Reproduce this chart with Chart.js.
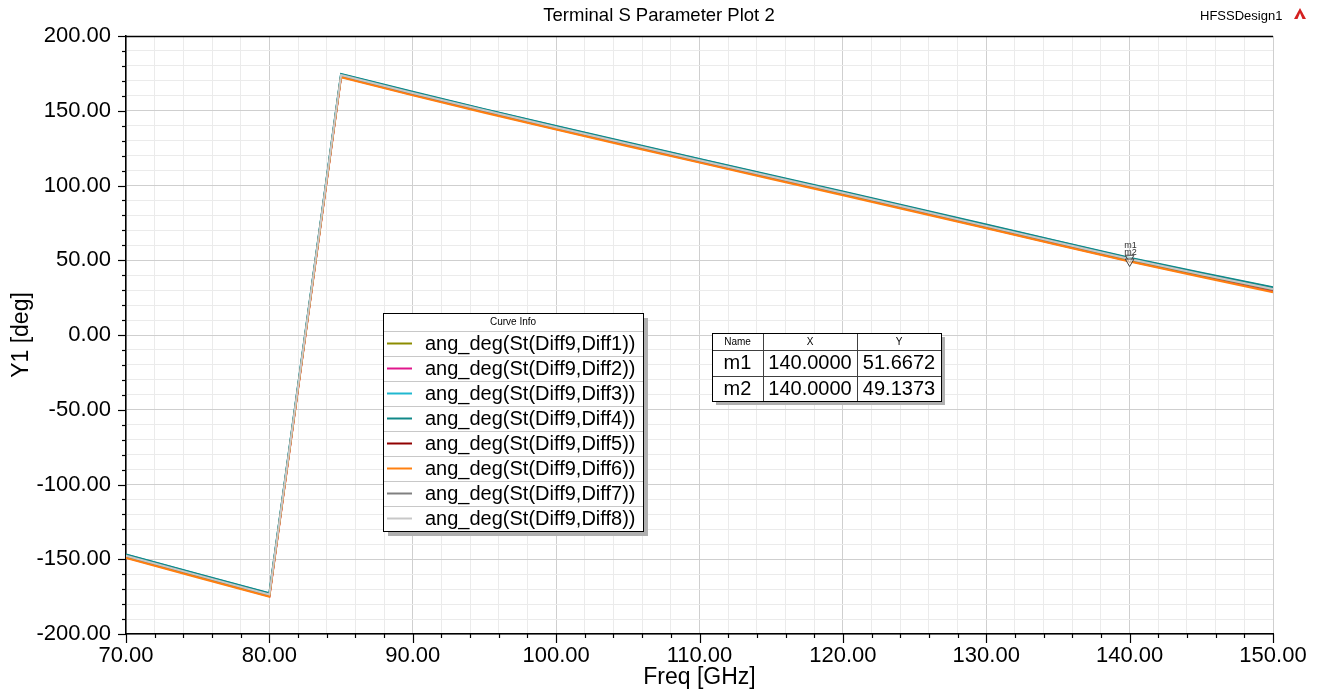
<!DOCTYPE html>
<html>
<head>
<meta charset="utf-8">
<script src="https://cdn.jsdelivr.net/npm/chart.js@4.4.1/dist/chart.umd.min.js"></script>
<style>
  html, body { margin: 0; padding: 0; background: #ffffff; }
  canvas { display: block; }
</style>
</head>
<body>
<canvas id="plot" width="1325" height="694"></canvas>
<script>
// Frequency sweep (GHz)
const freqGHz = [70, 75, 80, 85, 90, 95, 100, 105, 110, 115, 120, 125, 130, 135, 140, 145, 150];

// Phase of each transmission term, degrees
const angDiff1 = [-148.0, -161.0, -173.9, 173.5, 161.5, 149.9, 138.6, 127.5, 116.5, 105.6, 94.7, 83.7, 72.6, 61.5, 50.4, 40.2, 30.3];
const angDiff2 = [-148.8, -161.8, -174.7, 172.8, 160.7, 149.1, 137.8, 126.7, 115.7, 104.8, 93.9, 82.9, 71.8, 60.6, 49.5, 39.2, 29.2];
const angDiff3 = [-147.0, -160.0, -172.9, 174.4, 162.4, 150.8, 139.6, 128.5, 117.5, 106.6, 95.7, 84.7, 73.6, 62.5, 51.4, 41.4, 31.6];
const angDiff4 = [-146.8, -159.8, -172.7, 174.6, 162.7, 151.1, 139.9, 128.8, 117.8, 106.9, 96.0, 85.0, 73.9, 62.8, 51.6672, 41.7, 31.9];
const angDiff5 = [-148.3, -161.3, -174.2, 173.2, 161.2, 149.6, 138.3, 127.2, 116.2, 105.3, 94.4, 83.4, 72.3, 61.2, 50.1, 39.9, 30.0];
const angDiff6 = [-149.2, -162.2, -175.1, 172.4, 160.3, 148.7, 137.4, 126.3, 115.3, 104.4, 93.5, 82.5, 71.4, 60.2, 49.1373, 38.8, 28.6];
const angDiff7 = [-147.8, -160.8, -173.7, 173.7, 161.7, 150.1, 138.8, 127.7, 116.7, 105.8, 94.9, 83.9, 72.8, 61.7, 50.6, 40.5, 30.6];
const angDiff8 = [-147.6, -160.6, -173.5, 173.9, 161.9, 150.3, 139.0, 127.9, 116.9, 106.0, 95.1, 84.1, 73.0, 61.9, 50.8, 40.7, 30.8];

const curveNames = [
  'ang_deg(St(Diff9,Diff1))', 'ang_deg(St(Diff9,Diff2))', 'ang_deg(St(Diff9,Diff3))', 'ang_deg(St(Diff9,Diff4))',
  'ang_deg(St(Diff9,Diff5))', 'ang_deg(St(Diff9,Diff6))', 'ang_deg(St(Diff9,Diff7))', 'ang_deg(St(Diff9,Diff8))'
];
const curveColors = ['#8c8c00', '#e0168c', '#20b8d0', '#108888', '#900000', '#ff8010', '#808080', '#c8c8c8'];
const curveValues = [angDiff1, angDiff2, angDiff3, angDiff4, angDiff5, angDiff6, angDiff7, angDiff8];
// drawing order: lower values end up on top
const curveOrder = [6, 7, 5, 3, 8, 2, 4, 1];

// Markers
const markerNames = ['m1', 'm2'];
const markerX = [140.0, 140.0];
const markerY = [51.6672, 49.1373];

// Axis ranges and tick steps
const xMin = 70, xMax = 150, xMinorStep = 2, xMajorStep = 10;
const yMin = -200, yMax = 200, yMinorStep = 10, yMajorStep = 50;

const FONT = '"Liberation Sans", Arial, "DejaVu Sans", sans-serif';

function isMajor(v, step) {
  const r = Math.round(v * 1000) / 1000;
  return Math.abs(r / step - Math.round(r / step)) < 1e-6;
}

const datasets = curveValues.map((vals, i) => ({
  label: curveNames[i],
  data: freqGHz.map((f, k) => ({ x: f, y: vals[k] })),
  borderColor: curveColors[i],
  backgroundColor: curveColors[i],
  borderWidth: 2,
  pointRadius: 0,
  tension: 0,
  fill: false,
  order: curveOrder[i]
}));

datasets.push({
  label: 'markers',
  type: 'scatter',
  data: markerX.map((x, i) => ({ x: x, y: markerY[i] })),
  pointStyle: 'triangle',
  rotation: 180,
  pointRadius: 5,
  borderColor: '#404040',
  backgroundColor: 'rgba(255,255,255,0.6)',
  borderWidth: 1,
  showLine: false,
  order: 0
});

const overlay = {
  id: 'overlay',
  afterDraw(chart) {
    const ctx = chart.ctx;
    const area = chart.chartArea;
    const xs = chart.scales.x, ys = chart.scales.y;
    ctx.save();

    // plot frame (top)
    ctx.strokeStyle = '#000';
    ctx.lineWidth = 1.5;
    ctx.beginPath();
    ctx.moveTo(area.left, area.top + 0.5);
    ctx.lineTo(area.right, area.top + 0.5);
    ctx.stroke();

    // tick marks
    ctx.lineWidth = 1.2;
    ctx.strokeStyle = '#000';
    xs.ticks.forEach(t => {
      const px = Math.round(xs.getPixelForValue(t.value)) + 0.5;
      const len = isMajor(t.value, xMajorStep) ? 9 : 4;
      ctx.beginPath();
      ctx.moveTo(px, area.bottom);
      ctx.lineTo(px, area.bottom + len);
      ctx.stroke();
    });
    ys.ticks.forEach(t => {
      const py = Math.round(ys.getPixelForValue(t.value)) + 0.5;
      const len = isMajor(t.value, yMajorStep) ? 8 : 4;
      ctx.beginPath();
      ctx.moveTo(area.left, py);
      ctx.lineTo(area.left - len, py);
      ctx.stroke();
    });

    // title and design name
    ctx.fillStyle = '#000';
    ctx.textBaseline = 'middle';
    ctx.textAlign = 'center';
    ctx.font = '18.5px ' + FONT;
    ctx.fillText('Terminal S Parameter Plot 2', 659, 16);
    ctx.textAlign = 'left';
    ctx.font = '13px ' + FONT;
    ctx.fillText('HFSSDesign1', 1200, 16);
    // small logo glyph
    ctx.fillStyle = '#d42020';
    ctx.beginPath();
    ctx.moveTo(1300, 8);
    ctx.lineTo(1306, 19);
    ctx.lineTo(1294, 19);
    ctx.closePath();
    ctx.fill();
    ctx.fillStyle = '#fff';
    ctx.beginPath();
    ctx.moveTo(1300, 13);
    ctx.lineTo(1302.5, 19);
    ctx.lineTo(1297.5, 19);
    ctx.closePath();
    ctx.fill();

    // axis titles
    ctx.fillStyle = '#000';
    ctx.textAlign = 'center';
    ctx.font = '23px ' + FONT;
    ctx.fillText('Freq [GHz]', (area.left + area.right) / 2, 678);
    ctx.save();
    ctx.translate(22, (area.top + area.bottom) / 2);
    ctx.rotate(-Math.PI / 2);
    ctx.fillText('Y1 [deg]', 0, 0);
    ctx.restore();

    // marker labels
    ctx.font = '9px ' + FONT;
    ctx.fillStyle = '#303030';
    markerNames.forEach((n, i) => {
      const px = xs.getPixelForValue(markerX[i]);
      const py = ys.getPixelForValue(markerY[i]);
      ctx.fillText(n, px + 1, py - 12 + i * 3);
    });

    // Curve Info box
    const lx = 383, ly = 313, lw = 260, lh = 218, headH = 18;
    const rowH = (lh - headH) / curveNames.length;
    ctx.fillStyle = '#b0b0b0';
    ctx.fillRect(lx + 5, ly + 5, lw, lh);
    ctx.fillStyle = '#fff';
    ctx.fillRect(lx, ly, lw, lh);
    ctx.strokeStyle = '#c8c8c8';
    ctx.lineWidth = 1;
    for (let i = 0; i < curveNames.length; i++) {
      const yy = Math.round(ly + headH + i * rowH) + 0.5;
      ctx.beginPath();
      ctx.moveTo(lx, yy);
      ctx.lineTo(lx + lw, yy);
      ctx.stroke();
    }
    ctx.strokeStyle = '#000';
    ctx.strokeRect(lx + 0.5, ly + 0.5, lw, lh);
    ctx.fillStyle = '#000';
    ctx.font = '10px ' + FONT;
    ctx.textAlign = 'center';
    ctx.fillText('Curve Info', lx + lw / 2, ly + headH / 2);
    ctx.textAlign = 'left';
    ctx.font = '20px ' + FONT;
    curveNames.forEach((name, i) => {
      const cy = ly + headH + i * rowH + rowH / 2;
      ctx.strokeStyle = curveColors[i];
      ctx.lineWidth = 2;
      ctx.beginPath();
      ctx.moveTo(lx + 4, cy);
      ctx.lineTo(lx + 29, cy);
      ctx.stroke();
      ctx.fillStyle = '#000';
      ctx.fillText(name, lx + 42, cy + 1);
    });

    // marker table
    const tx = 712, ty = 333, tw = 229, th = 68, tHead = 17;
    const cols = [tx, 763, 857, tx + tw];
    const tRow = (th - tHead) / markerNames.length;
    ctx.fillStyle = '#b0b0b0';
    ctx.fillRect(tx + 4, ty + 4, tw, th);
    ctx.fillStyle = '#fff';
    ctx.fillRect(tx, ty, tw, th);
    ctx.strokeStyle = '#404040';
    ctx.lineWidth = 1;
    for (let i = 0; i < markerNames.length; i++) {
      const yy = Math.round(ty + tHead + i * tRow) + 0.5;
      ctx.beginPath();
      ctx.moveTo(tx, yy);
      ctx.lineTo(tx + tw, yy);
      ctx.stroke();
    }
    [cols[1], cols[2]].forEach(cx => {
      ctx.beginPath();
      ctx.moveTo(cx + 0.5, ty);
      ctx.lineTo(cx + 0.5, ty + th);
      ctx.stroke();
    });
    ctx.strokeStyle = '#000';
    ctx.strokeRect(tx + 0.5, ty + 0.5, tw, th);
    ctx.fillStyle = '#000';
    ctx.textAlign = 'center';
    ctx.font = '10px ' + FONT;
    ['Name', 'X', 'Y'].forEach((h, c) => ctx.fillText(h, (cols[c] + cols[c + 1]) / 2, ty + tHead / 2 + 1));
    ctx.font = '20px ' + FONT;
    markerNames.forEach((n, i) => {
      const cy = ty + tHead + i * tRow + tRow / 2 + 1;
      ctx.fillText(n, (cols[0] + cols[1]) / 2, cy);
      ctx.fillText(markerX[i].toFixed(4), (cols[1] + cols[2]) / 2, cy);
      ctx.fillText(markerY[i].toFixed(4), (cols[2] + cols[3]) / 2, cy);
    });

    ctx.restore();
  }
};

new Chart(document.getElementById('plot'), {
  type: 'line',
  data: { datasets: datasets },
  options: {
    responsive: false,
    animation: false,
    devicePixelRatio: 1,
    layout: { padding: { top: 36, right: 52, left: 0, bottom: 0 } },
    plugins: { legend: { display: false }, tooltip: { enabled: false }, title: { display: false } },
    scales: {
      x: {
        type: 'linear',
        min: xMin, max: xMax,
        afterFit: s => { s.height = 60; },
        ticks: {
          stepSize: xMinorStep,
          autoSkip: false,
          maxRotation: 0,
          padding: 9,
          color: '#000',
          font: { family: FONT, size: 22 },
          callback: v => isMajor(v, xMajorStep) ? Number(v).toFixed(2) : ''
        },
        grid: {
          drawTicks: false,
          lineWidth: 1,
          color: c => (c.tick && isMajor(c.tick.value, xMajorStep)) ? '#cfcfcf' : '#ebebeb'
        },
        border: { display: true, color: '#000', width: 1.5 }
      },
      y: {
        type: 'linear',
        min: yMin, max: yMax,
        afterFit: s => { s.width = 126; },
        ticks: {
          stepSize: yMinorStep,
          autoSkip: false,
          padding: 15,
          color: '#000',
          font: { family: FONT, size: 22 },
          callback: v => isMajor(v, yMajorStep) ? Number(v).toFixed(2) : ''
        },
        grid: {
          drawTicks: false,
          lineWidth: 1,
          color: c => (c.tick && isMajor(c.tick.value, yMajorStep)) ? '#cfcfcf' : '#ebebeb'
        },
        border: { display: true, color: '#000', width: 1.5 }
      }
    }
  },
  plugins: [overlay]
});
</script>
</body>
</html>
